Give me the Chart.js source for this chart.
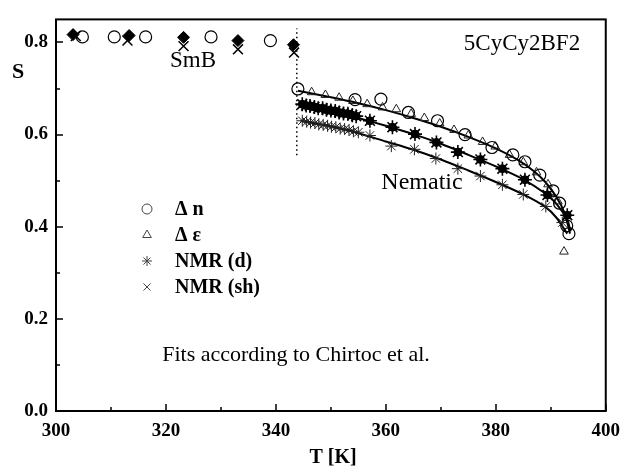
<!DOCTYPE html>
<html>
<head>
<meta charset="utf-8">
<script src="https://cdn.jsdelivr.net/npm/chart.js@4.4.1/dist/chart.umd.min.js"></script>
<style>
  html, body { margin: 0; padding: 0; background: #fff; }
  #wrap { width: 629px; height: 475px; }
</style>
</head>
<body>
<div id="wrap"><canvas id="c" width="629" height="475"></canvas></div>
<script>
// Order parameter S of 5CyCy2BF2 versus temperature T [K]

const xTicks = [300, 320, 340, 360, 380, 400];
const yTicks = [0.0, 0.2, 0.4, 0.6, 0.8];

// Smectic B phase
const smbDnT = [304.8, 310.6, 316.3, 328.2, 339.0];
const smbDnS = [0.812, 0.812, 0.812, 0.812, 0.804];
const smbNmrDT = [303.1, 313.3, 323.2, 333.1, 343.2];
const smbNmrDS = [0.817, 0.815, 0.811, 0.804, 0.795];
const smbNmrShT = [303.6, 313.0, 323.2, 333.1, 343.3];
const smbNmrShS = [0.814, 0.804, 0.792, 0.785, 0.778];

// Nematic phase: birefringence
const nemDnT = [344.0, 354.4, 359.1, 364.1, 369.4, 374.4, 379.3, 383.1, 385.3, 388.0, 390.4, 391.6, 392.9, 393.3];
const nemDnS = [0.699, 0.676, 0.677, 0.648, 0.630, 0.600, 0.572, 0.556, 0.541, 0.512, 0.478, 0.451, 0.402, 0.385];

// Nematic phase: dielectric anisotropy
const nemDeT = [346.5, 349.0, 351.5, 354.0, 356.6, 359.4, 361.9, 364.6, 367.0, 369.8, 372.4, 375.0, 377.6, 379.9, 382.5, 385.0, 387.4, 389.5, 391.3, 392.4];
const nemDeS = [0.692, 0.686, 0.680, 0.673, 0.666, 0.659, 0.655, 0.645, 0.636, 0.624, 0.610, 0.598, 0.584, 0.574, 0.556, 0.540, 0.518, 0.492, 0.455, 0.346];

// Nematic phase: NMR (deuteron)
const nemNmrDT = [344.8, 345.5, 346.2, 347.0, 347.7, 348.5, 349.2, 350.0, 350.8, 351.5, 352.3, 353.1, 353.9, 354.6, 357.1, 361.2, 365.3, 369.2, 373.1, 377.2, 381.2, 385.3, 389.4, 393.0];
const nemNmrDS = [0.666, 0.663, 0.662, 0.660, 0.657, 0.657, 0.654, 0.652, 0.651, 0.648, 0.646, 0.645, 0.642, 0.640, 0.630, 0.616, 0.601, 0.583, 0.562, 0.546, 0.526, 0.502, 0.469, 0.425];

// Nematic phase: NMR (shielding)
const nemNmrShT = [344.8, 345.6, 346.3, 347.1, 347.8, 348.6, 349.4, 350.1, 350.9, 351.7, 352.5, 353.3, 354.1, 355.0, 357.1, 361.0, 365.2, 369.1, 373.1, 377.2, 381.2, 385.0, 389.1, 392.1];
const nemNmrShS = [0.630, 0.628, 0.626, 0.625, 0.622, 0.621, 0.619, 0.617, 0.616, 0.613, 0.612, 0.610, 0.607, 0.605, 0.598, 0.575, 0.568, 0.548, 0.526, 0.510, 0.491, 0.470, 0.444, 0.409];

// Fitted curves
const fitTopT = [344.0, 350.0, 355.0, 360.0, 365.0, 370.0, 375.0, 380.0, 384.0, 387.0, 389.0, 391.0, 392.5, 393.5];
const fitTopS = [0.695, 0.681, 0.668, 0.653, 0.636, 0.617, 0.595, 0.570, 0.545, 0.520, 0.497, 0.465, 0.430, 0.385];
const fitMidT = [344.5, 350.0, 355.0, 360.0, 365.0, 370.0, 375.0, 380.0, 385.0, 389.0, 391.0, 393.0, 393.6];
const fitMidS = [0.667, 0.652, 0.636, 0.619, 0.601, 0.580, 0.556, 0.531, 0.503, 0.472, 0.450, 0.415, 0.390];
const fitLowT = [344.5, 350.0, 355.0, 360.0, 365.0, 370.0, 375.0, 380.0, 385.0, 389.0, 391.0, 393.0];
const fitLowS = [0.630, 0.618, 0.603, 0.585, 0.567, 0.546, 0.522, 0.497, 0.470, 0.443, 0.420, 0.385];

// SmB / nematic transition marker
const transT = [343.8, 343.8];
const transS = [0.555, 0.830];

const pts = (xs, ys) => xs.map((x, i) => ({ x: x, y: ys[i] }));

const SERIF = '"Liberation Serif", "Times New Roman", serif';

const legendItems = [
  { label: 'Δ n', style: 'circle' },
  { label: 'Δ ε', style: 'triangle' },
  { label: 'NMR (d)', style: 'star' },
  { label: 'NMR (sh)', style: 'crossRot' }
];

const decorations = {
  id: 'decorations',
  afterDraw(chart) {
    const ctx = chart.ctx;
    const a = chart.chartArea;
    const xs = chart.scales.x, ys = chart.scales.y;
    ctx.save();
    ctx.strokeStyle = '#000';
    ctx.lineWidth = 2;
    ctx.strokeRect(a.left, a.top, a.right - a.left, a.bottom - a.top);

    // inward ticks
    ctx.lineWidth = 1.5;
    ctx.beginPath();
    for (let v = 300; v <= 400; v += 10) {
      const px = Math.round(xs.getPixelForValue(v));
      const len = (v % 20 === 0) ? 7 : 4;
      ctx.moveTo(px, a.bottom); ctx.lineTo(px, a.bottom - len);
    }
    for (let i = 0; i <= 8; i++) {
      const v = i / 10;
      const py = Math.round(ys.getPixelForValue(v));
      const len = (i % 2 === 0) ? 7 : 4;
      ctx.moveTo(a.left, py); ctx.lineTo(a.left + len, py);
    }
    ctx.stroke();

    // axis titles and annotations
    ctx.fillStyle = '#000';
    ctx.textAlign = 'center';
    ctx.textBaseline = 'middle';
    ctx.font = 'bold 22px ' + SERIF;
    ctx.fillText('S', 18, 72);
    ctx.font = 'bold 20px ' + SERIF;
    ctx.fillText('T [K]', 333, 458);
    ctx.font = '23px ' + SERIF;
    ctx.fillText('SmB', 193, 61);
    ctx.fillText('5CyCy2BF2', 522, 44);
    ctx.font = '24px ' + SERIF;
    ctx.fillText('Nematic', 422, 183);
    ctx.font = '22px ' + SERIF;
    ctx.fillText('Fits according to Chirtoc et al.', 296, 355);

    // legend
    ctx.textAlign = 'left';
    ctx.font = 'bold 20px ' + SERIF;
    legendItems.forEach((it, i) => {
      const y = 209 + i * 26;
      ctx.strokeStyle = '#444';
      ctx.fillStyle = 'rgba(0,0,0,0)';
      ctx.lineWidth = 1;
      Chart.helpers.drawPoint(ctx, { pointStyle: it.style, radius: 5, borderWidth: 1 }, 147, y);
      ctx.fillStyle = '#000';
      ctx.fillText(it.label, 175, y + 1);
    });
    ctx.restore();
  }
};

const lineDs = (xs, ys) => ({
  type: 'scatter', data: pts(xs, ys), showLine: true, borderColor: '#000',
  borderWidth: 2, pointRadius: 0, tension: 0.3, order: 10
});

new Chart(document.getElementById('c'), {
  type: 'scatter',
  data: {
    datasets: [
      lineDs(fitTopT, fitTopS),
      lineDs(fitMidT, fitMidS),
      lineDs(fitLowT, fitLowS),
      {
        data: pts(transT, transS), showLine: true, borderColor: '#000', borderWidth: 1.5,
        borderDash: [1.5, 3], pointRadius: 0, order: 11
      },
      {
        data: pts(nemDeT, nemDeS), pointStyle: 'triangle', pointRadius: 5,
        borderColor: '#222', borderWidth: 1, backgroundColor: 'rgba(255,255,255,0)', order: 5
      },
      {
        data: pts(smbDnT.concat(nemDnT), smbDnS.concat(nemDnS)), pointStyle: 'circle', pointRadius: 6,
        borderColor: '#000', borderWidth: 1.2, backgroundColor: 'rgba(255,255,255,0)', order: 4
      },
      {
        data: pts(nemNmrShT, nemNmrShS), pointStyle: 'star', pointRadius: 6,
        borderColor: '#222', borderWidth: 1, order: 3
      },
      {
        data: pts(nemNmrDT, nemNmrDS), pointStyle: 'star', pointRadius: 7,
        borderColor: '#000', borderWidth: 1.6, order: 2
      },
      {
        data: pts(nemNmrDT, nemNmrDS), pointStyle: 'circle', pointRadius: 4,
        borderColor: '#000', borderWidth: 1, backgroundColor: '#000', order: 1
      },
      {
        data: pts(smbNmrShT, smbNmrShS), pointStyle: 'crossRot', pointRadius: 7,
        borderColor: '#000', borderWidth: 1.5, order: 1
      },
      {
        data: pts(smbNmrDT, smbNmrDS), pointStyle: 'rectRot', pointRadius: 6,
        borderColor: '#000', borderWidth: 1, backgroundColor: '#000', order: 0
      }
    ]
  },
  options: {
    responsive: false,
    animation: false,
    events: [],
    layout: { padding: { top: 7, right: 17, left: 0, bottom: 0 } },
    plugins: { legend: { display: false }, tooltip: { enabled: false } },
    scales: {
      x: {
        type: 'linear', min: 300, max: 400,
        grid: { display: false, drawTicks: false },
        border: { display: false },
        afterBuildTicks: (s) => { s.ticks = xTicks.map(v => ({ value: v })); },
        afterFit: (s) => { s.height = 64; },
        ticks: { color: '#000', padding: 9, maxRotation: 0, font: { family: SERIF, size: 19, weight: 'bold' } }
      },
      y: {
        type: 'linear', min: 0, max: 0.85,
        grid: { display: false, drawTicks: false },
        border: { display: false },
        afterBuildTicks: (s) => { s.ticks = yTicks.map(v => ({ value: v })); },
        afterFit: (s) => { s.width = 56; },
        ticks: {
          color: '#000', padding: 8, font: { family: SERIF, size: 19, weight: 'bold' },
          callback: (v) => Number(v).toFixed(1)
        }
      }
    }
  },
  plugins: [decorations]
});
</script>
</body>
</html>
